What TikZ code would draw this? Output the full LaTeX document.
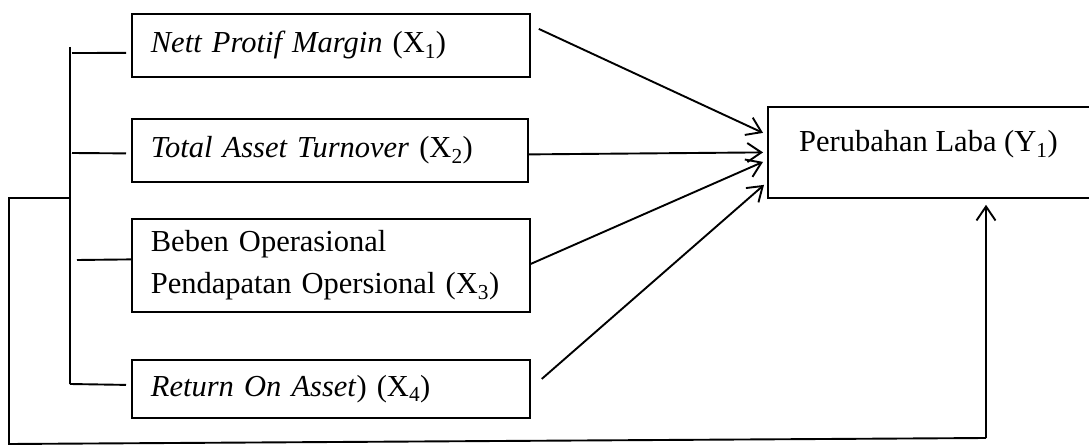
\documentclass[tikz,border=0pt]{standalone}
\usepackage{fontspec}
\setmainfont{Liberation Serif}
\usetikzlibrary{arrows.meta,calc}
\begin{document}
\begin{tikzpicture}[x=1pt,y=-1pt,
  every node/.style={font=\fontsize{30.5}{42}\selectfont},
  boxx/.style={draw,line width=1.8pt,anchor=north west,inner xsep=19pt,inner ysep=0pt,align=left},
  conn/.style={line width=1.9pt},
  arr/.style={line width=1.9pt,-{Straight Barb[length=14pt,width=19pt,line width=1.9pt]}}]
\useasboundingbox (0,0) rectangle (1089,446);
% predictor boxes
\node[boxx,minimum width=398pt,minimum height=63pt,text width=360pt] (x1) at (131,13) {\textit{Nett Protif Margin} (X\textsubscript{1})};
\node[boxx,minimum width=396pt,minimum height=63pt,text width=358pt] (x2) at (131,118) {\textit{Total Asset Turnover} (X\textsubscript{2})};
\node[boxx,minimum width=398pt,minimum height=93pt,text width=360pt] (x3) at (131,218) {Beben Operasional\\Pendapatan Opersional (X\textsubscript{3})};
\node[boxx,minimum width=398pt,minimum height=58pt,text width=360pt] (x4) at (131,359) {\textit{Return On Asset}) (X\textsubscript{4})};
% dependent box
\node[draw,line width=1.8pt,anchor=north west,minimum width=330pt,minimum height=91pt,inner sep=0pt] (y) at (767,106) {};
\node[anchor=base west,inner sep=0pt] (ylab) at (799,152) {Perubahan Laba (Y\textsubscript{1})};
% bracket
\coordinate (bt) at (70,47);
\coordinate (bb) at (70,384);
\draw[conn] (bt) -- (bb);
\draw[conn] (72,53) -- ($(x1.west)+(-5,7.5)$);
\draw[conn] (72,153) -- ($(x2.west)+(-5,3)$);
\draw[conn] (77,260) -- ($(x3.west)+(0,-6)$);
\draw[conn] (bb) -- ($(x4.west)+(-5,-4)$);
% arrows to Y
\draw[arr] ($(x1.east)+(8,-16.5)$) -- ($(y.west)+(-4,-19.5)$);
\draw[arr] ($(x2.east)+(0,4)$) -- ($(y.west)+(-4,0)$);
\draw[arr] ($(x3.east)+(0,-1.5)$) -- ($(y.west)+(-4,9.5)$);
\draw[arr] ($(x4.east)+(11,-10)$) -- ($(y.west)+(-3,32.5)$);
% feedback path
\coordinate (fa) at (70,198);
\coordinate (fb) at (9,198);
\coordinate (fc) at (9,444);
\coordinate (fd) at (986,438);
\draw[conn] (fa) -- (fb) -- (fc) -- (fd);
\draw[arr] (fd) -- ($(y.south west)+(219,6)$);
\end{tikzpicture}
\end{document}
